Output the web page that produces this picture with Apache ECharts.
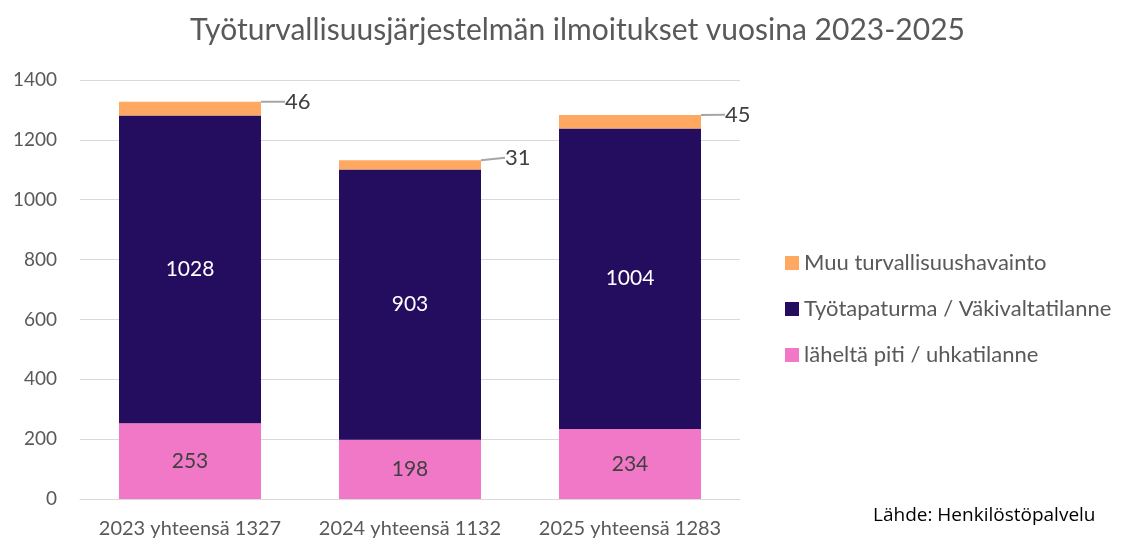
<!DOCTYPE html>
<html>
<head>
    <meta charset="utf-8">
    <title>Työturvallisuusjärjestelmän ilmoitukset</title>
    <style>
        html, body { margin: 0; padding: 0; background: #fff; }
        #chart { width: 1122px; height: 542px; }
    </style>
</head>
<body>
<div id="chart"></div>
<script src="https://cdn.jsdelivr.net/npm/echarts@6/dist/echarts.min.js"></script>
<script type="text/javascript">
    // aineisto
    var vuodet = ['2023 yhteensä 1327', '2024 yhteensä 1132', '2025 yhteensä 1283'];
    var lahelta = [253, 198, 234];
    var tyotapaturma = [1028, 903, 1004];
    var muu = [46, 31, 45];
    var sarjaNimet = ['läheltä piti / uhkatilanne', 'Työtapaturma / Väkivaltatilanne', 'Muu turvallisuushavainto'];

    var fontti = 'Lato, "Open Sans", sans-serif';
    var harmaa = '#595959';

    var myChart = echarts.init(document.getElementById('chart'));

    var option = {
        animation: false,
        title: {
            text: 'Työturvallisuusjärjestelmän ilmoitukset vuosina 2023-2025',
            left: 185,
            top: 10,
            textStyle: { color: harmaa, fontSize: 30, fontWeight: 'normal', fontFamily: fontti }
        },
        legend: {
            orient: 'vertical',
            left: 780,
            top: 247,
            itemWidth: 14,
            itemHeight: 14,
            itemGap: 24,
            icon: 'rect',
            data: [sarjaNimet[2], sarjaNimet[1], sarjaNimet[0]],
            textStyle: { color: harmaa, fontSize: 22, fontFamily: fontti }
        },
        grid: { left: 80, right: 382, top: 80, bottom: 43 },
        xAxis: {
            type: 'category',
            data: vuodet,
            axisTick: { show: false },
            axisLine: { lineStyle: { color: '#d9d9d9', width: 1 } },
            axisLabel: { color: harmaa, fontSize: 20, fontFamily: fontti, margin: 20, interval: 0, hideOverlap: false }
        },
        yAxis: {
            type: 'value',
            min: 0,
            max: 1400,
            interval: 200,
            axisLine: { show: false },
            axisTick: { show: false },
            splitLine: { lineStyle: { color: '#d9d9d9', width: 1 } },
            axisLabel: { color: harmaa, fontSize: 19, fontFamily: fontti, margin: 23, formatter: function (v) { return String(v); } }
        },
        series: [
            {
                name: sarjaNimet[0],
                type: 'bar',
                stack: 'yht',
                barWidth: 142,
                data: lahelta,
                itemStyle: { color: '#F178C6' },
                label: { show: true, position: 'inside', color: '#404040', fontSize: 21, fontFamily: fontti }
            },
            {
                name: sarjaNimet[1],
                type: 'bar',
                stack: 'yht',
                data: tyotapaturma,
                itemStyle: { color: '#240D5F' },
                label: { show: true, position: 'inside', color: '#fff', fontSize: 21, fontFamily: fontti }
            },
            {
                name: sarjaNimet[2],
                type: 'bar',
                stack: 'yht',
                data: muu,
                itemStyle: { color: '#FFA862' },
                label: { show: true, position: 'right', distance: 0, color: '#404040', fontSize: 22, fontFamily: fontti },
                labelLayout: { dx: 24, dy: -7 },
                labelLine: { show: true, lineStyle: { color: '#a6a6a6', width: 2 } }
            }
        ]
    };

    myChart.setOption(option);

    // lähde oikeaan alakulmaan
    myChart.setOption({
        graphic: [{
            type: 'text',
            left: 873,
            top: 506,
            style: { text: 'Lähde: Henkilöstöpalvelu', fill: '#000', fontSize: 19, fontFamily: '"Open Sans", sans-serif' }
        }]
    });
</script>
</body>
</html>
